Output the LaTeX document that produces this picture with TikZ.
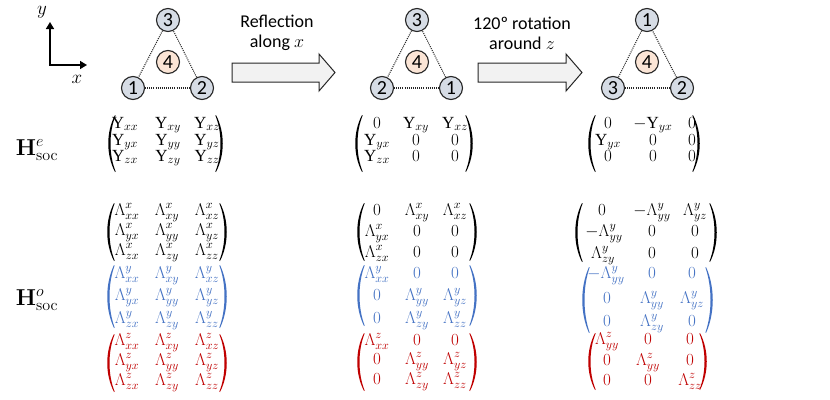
\RequirePackage{fix-cm}
\documentclass[tikz,border=0pt]{standalone}
\usepackage[no-math]{fontspec}
\setmainfont{Carlito}
\newfontfamily\upsfont{Liberation Serif}
\usetikzlibrary{arrows.meta}
\definecolor{cblue}{HTML}{4472C4}
\definecolor{cred}{HTML}{C00000}
\definecolor{cfill}{HTML}{D6DCE5}
\definecolor{ofill}{HTML}{FBE5D6}
\definecolor{afill}{HTML}{F2F2F2}
\definecolor{edgec}{HTML}{262626}
\newcommand\Ups{\mbox{\upsfont Υ}}
% left / right parenthesis: x of bulge, top y, bottom y, colour
\newcommand\lpar[4]{\fill[#4] ({#1+7},#2) .. controls ({#1-2},{#2+(#3-#2)*0.3}) and ({#1-2},{#3-(#3-#2)*0.3}) .. ({#1+7},#3) -- ({#1+7.6},{#3-0.6}) .. controls ({#1+0.8},{#3-(#3-#2)*0.3}) and ({#1+0.8},{#2+(#3-#2)*0.3}) .. ({#1+7.6},{#2+0.6}) -- cycle;}
\newcommand\rpar[4]{\fill[#4] ({#1-7},#2) .. controls ({#1+2},{#2+(#3-#2)*0.3}) and ({#1+2},{#3-(#3-#2)*0.3}) .. ({#1-7},#3) -- ({#1-7.6},{#3-0.6}) .. controls ({#1-0.8},{#3-(#3-#2)*0.3}) and ({#1-0.8},{#2+(#3-#2)*0.3}) .. ({#1-7.6},{#2+0.6}) -- cycle;}
% row of three entries: prefix, y, x1, x2, x3, e1, e2, e3
\newcommand\mrow[8]{\node[ent] (#1-1) at (#3,#2) {$#6$}; \node[ent] (#1-2) at (#4,#2) {$#7$}; \node[ent] (#1-3) at (#5,#2) {$#8$};}
\begin{document}
\begin{tikzpicture}[x=1pt,y=-1pt,
  site/.style={circle,draw=edgec,line width=1.1pt,fill=cfill,inner sep=0pt,minimum size=23pt,font=\fontsize{20}{20}\selectfont},
  csite/.style={site,fill=ofill},
  bond/.style={draw=edgec,line width=1.1pt,dash pattern=on 1pt off 1.1pt},
  ent/.style={inner sep=0pt,font=\fontsize{17}{17}\selectfont,text height=7pt,text depth=1pt},
  lbl/.style={font=\fontsize{18}{20}\selectfont,align=center,inner sep=0pt},
  hlbl/.style={font=\fontsize{23}{23}\selectfont,inner sep=0pt},
  axlbl/.style={font=\fontsize{19}{19}\selectfont,inner sep=0pt},
  blockarrow/.style={fill=afill,draw=edgec,line width=1pt,line join=miter}
]
\fill[white] (0,0) rectangle (830,399);
\path[use as bounding box] (0,0) rectangle (830,399);

% axes
\coordinate (ay) at (50,22);
\coordinate (o) at (50,65);
\coordinate (ax) at (87,65);
\draw[line width=1.5pt,line join=miter,{Triangle[length=7pt,width=8pt]}-{Triangle[length=7pt,width=8pt]}] (ay) -- (o) -- (ax);
\node[axlbl] (ylab) at (42,12) {$y$};
\node[axlbl] (xlab) at (77,79) {$x$};

% triangle 1
\node[site] (a3) at (168,20) {3};
\node[site] (a1) at (133,88) {1};
\node[site] (a2) at (202,88) {2};
\node[csite] (a4) at (168,62) {4};
\draw[bond] (a3) -- (a1);
\draw[bond] (a1) -- (a2);
\draw[bond] (a2) -- (a3);

% triangle 2
\node[site] (b3) at (417,20) {3};
\node[site] (b2) at (382,88) {2};
\node[site] (b1) at (451,88) {1};
\node[csite] (b4) at (417,62) {4};
\draw[bond] (b3) -- (b2);
\draw[bond] (b2) -- (b1);
\draw[bond] (b1) -- (b3);

% triangle 3
\node[site] (c1) at (647,20) {1};
\node[site] (c3) at (613,88) {3};
\node[site] (c2) at (682,88) {2};
\node[csite] (c4) at (647,62) {4};
\draw[bond] (c1) -- (c3);
\draw[bond] (c3) -- (c2);
\draw[bond] (c2) -- (c1);

% block arrows
\draw[blockarrow] (232,63) -- (319,63) -- (319,54) -- (335,72.5) -- (319,91) -- (319,82) -- (232,82) -- cycle;
\draw[blockarrow] (478,63) -- (566,63) -- (566,54) -- (582,72.5) -- (566,91) -- (566,82) -- (478,82) -- cycle;
\node[lbl] (t1) at (277,33) {Reflection\\along $x$};
\node[lbl] (t2) at (522,33) {120º rotation\\around $z$};

% labels
\node[hlbl] (he) at (37,150) {$\mathbf{H}^{e}_{\mathrm{soc}}$};
\node[hlbl] (ho) at (37,300) {$\mathbf{H}^{o}_{\mathrm{soc}}$};

% ---- electron SOC matrices
\mrow{e1a}{125}{125}{168}{207}{\Ups_{xx}}{\Ups_{xy}}{\Ups_{xz}}
\mrow{e1b}{142}{125}{168}{207}{\Ups_{yx}}{\Ups_{yy}}{\Ups_{yz}}
\mrow{e1c}{158}{125}{168}{207}{\Ups_{zx}}{\Ups_{zy}}{\Ups_{zz}}
\lpar{108}{115}{172}{black}\rpar{223}{115}{172}{black}

\mrow{e2a}{125}{377}{416}{455}{0}{\Ups_{xy}}{\Ups_{xz}}
\mrow{e2b}{142}{377}{416}{455}{\Ups_{yx}}{0}{0}
\mrow{e2c}{158}{377}{416}{455}{\Ups_{zx}}{0}{0}
\lpar{355}{115}{172}{black}\rpar{473}{115}{172}{black}

\mrow{e3a}{125}{608}{653}{692}{0}{-\Ups_{yx}}{0}
\mrow{e3b}{142}{608}{653}{692}{\Ups_{yx}}{0}{0}
\mrow{e3c}{158}{608}{653}{692}{0}{0}{0}
\lpar{588}{115}{172}{black}\rpar{700}{115}{172}{black}

% ---- orbital SOC matrices, column 1
\mrow{o1a}{212}{127}{167}{207}{\Lambda^x_{xx}}{\Lambda^x_{xy}}{\Lambda^x_{xz}}
\mrow{o1b}{232}{127}{167}{207}{\Lambda^x_{yx}}{\Lambda^x_{yy}}{\Lambda^x_{yz}}
\mrow{o1c}{252}{127}{167}{207}{\Lambda^x_{zx}}{\Lambda^x_{zy}}{\Lambda^x_{zz}}
\lpar{107}{203}{261}{black}\rpar{227}{203}{261}{black}
\begin{scope}[cblue]
\mrow{o1d}{275}{127}{167}{207}{\Lambda^y_{xx}}{\Lambda^y_{xy}}{\Lambda^y_{xz}}
\mrow{o1e}{297}{127}{167}{207}{\Lambda^y_{yx}}{\Lambda^y_{yy}}{\Lambda^y_{yz}}
\mrow{o1f}{320}{127}{167}{207}{\Lambda^y_{zx}}{\Lambda^y_{zy}}{\Lambda^y_{zz}}
\end{scope}
\lpar{107}{265}{328}{cblue}\rpar{227}{265}{328}{cblue}
\begin{scope}[cred]
\mrow{o1g}{342}{127}{167}{207}{\Lambda^z_{xx}}{\Lambda^z_{xy}}{\Lambda^z_{xz}}
\mrow{o1h}{362}{127}{167}{207}{\Lambda^z_{yx}}{\Lambda^z_{yy}}{\Lambda^z_{yz}}
\mrow{o1i}{382}{127}{167}{207}{\Lambda^z_{zx}}{\Lambda^z_{zy}}{\Lambda^z_{zz}}
\end{scope}
\lpar{107}{334}{392}{cred}\rpar{227}{334}{392}{cred}

% column 2
\mrow{o2a}{212}{377}{417}{455}{0}{\Lambda^x_{xy}}{\Lambda^x_{xz}}
\mrow{o2b}{233}{377}{417}{455}{\Lambda^x_{yx}}{0}{0}
\mrow{o2c}{254}{377}{417}{455}{\Lambda^x_{zx}}{0}{0}
\lpar{357}{203}{261}{black}\rpar{477}{203}{261}{black}
\begin{scope}[cblue]
\mrow{o2d}{275}{377}{417}{455}{\Lambda^y_{xx}}{0}{0}
\mrow{o2e}{297}{377}{417}{455}{0}{\Lambda^y_{yy}}{\Lambda^y_{yz}}
\mrow{o2f}{320}{377}{417}{455}{0}{\Lambda^y_{zy}}{\Lambda^y_{zz}}
\end{scope}
\lpar{357}{265}{326}{cblue}\rpar{477}{265}{326}{cblue}
\begin{scope}[cred]
\mrow{o2g}{342}{377}{417}{455}{\Lambda^z_{xx}}{0}{0}
\mrow{o2h}{361}{377}{417}{455}{0}{\Lambda^z_{yy}}{\Lambda^z_{yz}}
\mrow{o2i}{381}{377}{417}{455}{0}{\Lambda^z_{zy}}{\Lambda^z_{zz}}
\end{scope}
\lpar{357}{333}{391}{cred}\rpar{477}{333}{391}{cred}

% column 3
\mrow{o3a}{212}{602}{652}{695}{0}{-\Lambda^y_{yy}}{\Lambda^y_{yz}}
\mrow{o3b}{233}{604}{652}{695}{-\Lambda^y_{yy}}{0}{0}
\mrow{o3c}{255}{603}{652}{695}{\Lambda^y_{zy}}{0}{0}
\lpar{575}{203}{262}{black}\rpar{717}{203}{262}{black}
\begin{scope}[cblue]
\mrow{o3d}{275}{606}{652}{692}{-\Lambda^y_{yy}}{0}{0}
\mrow{o3e}{300}{607}{652}{692}{0}{\Lambda^y_{yy}}{\Lambda^y_{yz}}
\mrow{o3f}{323}{607}{652}{692}{0}{\Lambda^y_{zy}}{0}
\end{scope}
\lpar{582}{267}{333}{cblue}\rpar{713}{267}{333}{cblue}
\begin{scope}[cred]
\mrow{o3g}{341}{607}{648}{690}{\Lambda^z_{yy}}{0}{0}
\mrow{o3h}{362}{607}{648}{690}{0}{\Lambda^z_{yy}}{0}
\mrow{o3i}{382}{607}{648}{690}{0}{0}{\Lambda^z_{zz}}
\end{scope}
\lpar{588}{333}{390}{cred}\rpar{707}{333}{390}{cred}
\end{tikzpicture}
\end{document}
